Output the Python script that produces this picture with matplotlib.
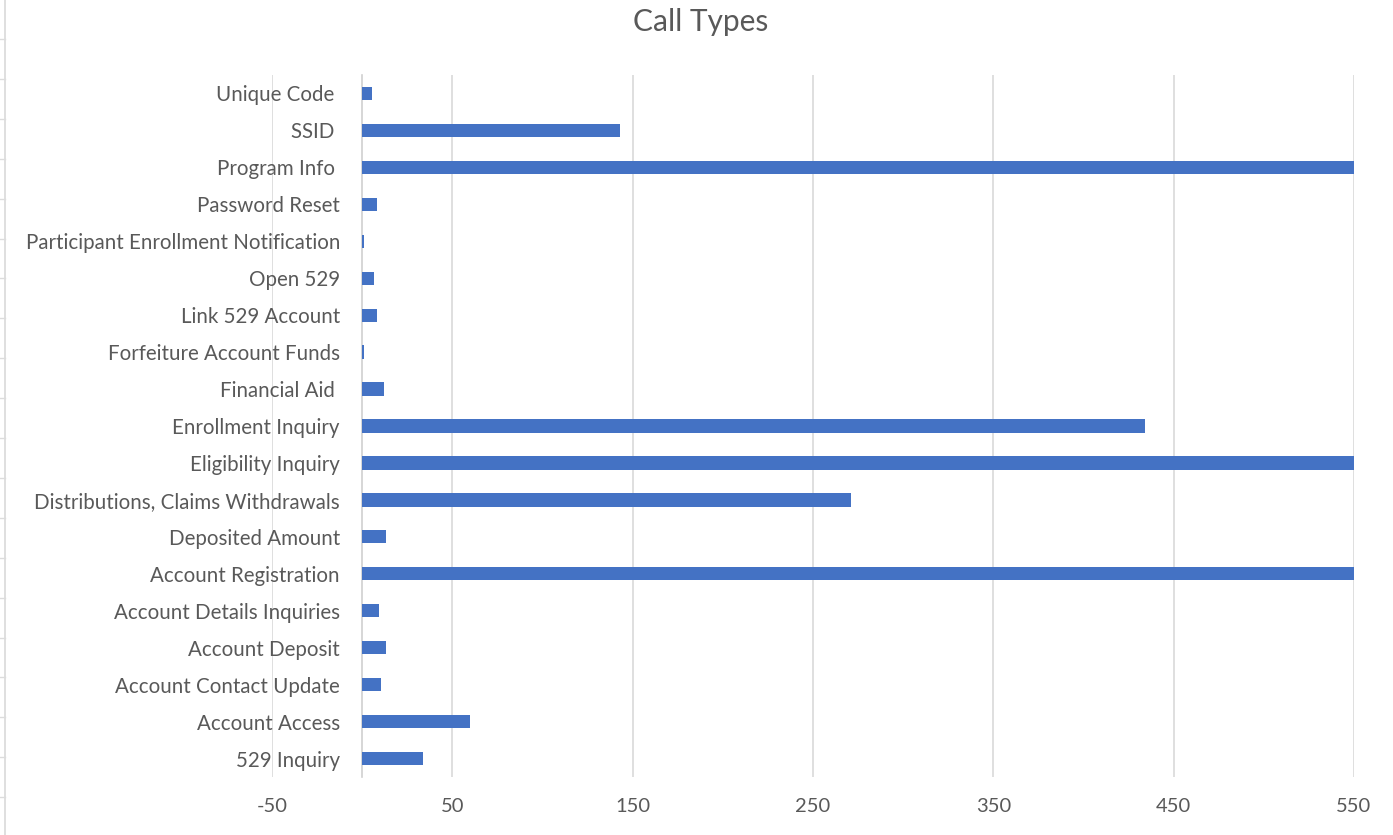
import matplotlib
matplotlib.use("Agg")
import matplotlib.pyplot as plt
from matplotlib.lines import Line2D

categories = ["529 Inquiry", "Account Access", "Account Contact Update", "Account Deposit",
              "Account Details Inquiries", "Account Registration", "Deposited Amount",
              "Distributions, Claims Withdrawals", "Eligibility Inquiry", "Enrollment Inquiry",
              "Financial Aid ", "Forfeiture Account Funds", "Link 529 Account", "Open 529",
              "Participant Enrollment Notification", "Password Reset", "Program Info ",
              "SSID ", "Unique Code "]
values = [34, 60, 10.5, 13, 9.5, 700, 13, 271, 650, 434, 12, 1, 8, 6.5, 1, 8.5, 750, 143, 5.5]
xticks = [-50, 50, 150, 250, 350, 450, 550]

plt.rcParams['font.family'] = ['Lato', 'DejaVu Sans']
fig = plt.figure(figsize=(13.93, 8.35), dpi=100)
ax = fig.add_axes([272/1393, 1-777/835, (1354-272)/1393, (777-75)/835])

ypos = list(range(len(categories)))
ax.barh(ypos, values, height=0.36, color="#4472C4", zorder=3)
ax.set_xlim(-50, 550)
ax.set_ylim(-0.5, len(categories) - 0.5)
ax.set_xticks(xticks)
ax.set_xticklabels([str(t) for t in xticks])
ax.set_yticks(ypos)
ax.set_yticklabels(categories)
ax.grid(axis='x', color='#d9d9d9', linewidth=1.2, zorder=0)
ax.set_axisbelow(True)
for s in ['top', 'right', 'bottom']:
    ax.spines[s].set_visible(False)
ax.spines['left'].set_position(('data', 0))
ax.spines['left'].set_color('#d0d0d0')
ax.spines['left'].set_linewidth(1.2)
ax.tick_params(axis='both', length=0, labelsize=14.8, labelcolor='#595959')
ax.tick_params(axis='x', labelsize=14.5, pad=15)
ax.tick_params(axis='y', pad=16)

fig.text(701/1393, 1-22/835, "Call Types", ha='center', va='center', fontsize=21.5, color='#595959')

# spreadsheet edge artefact on the far left
fig.add_artist(Line2D([4.5/1393, 4.5/1393], [0, 1], color='#dcdcdc', linewidth=1.3, transform=fig.transFigure))
for k in range(20):
    yy = 1 - (39 + 39.9 * k) / 835
    fig.add_artist(Line2D([0, 4.5/1393], [yy, yy], color='#dcdcdc', linewidth=1.0, transform=fig.transFigure))

fig.savefig("out.png", dpi=100, facecolor='white')
